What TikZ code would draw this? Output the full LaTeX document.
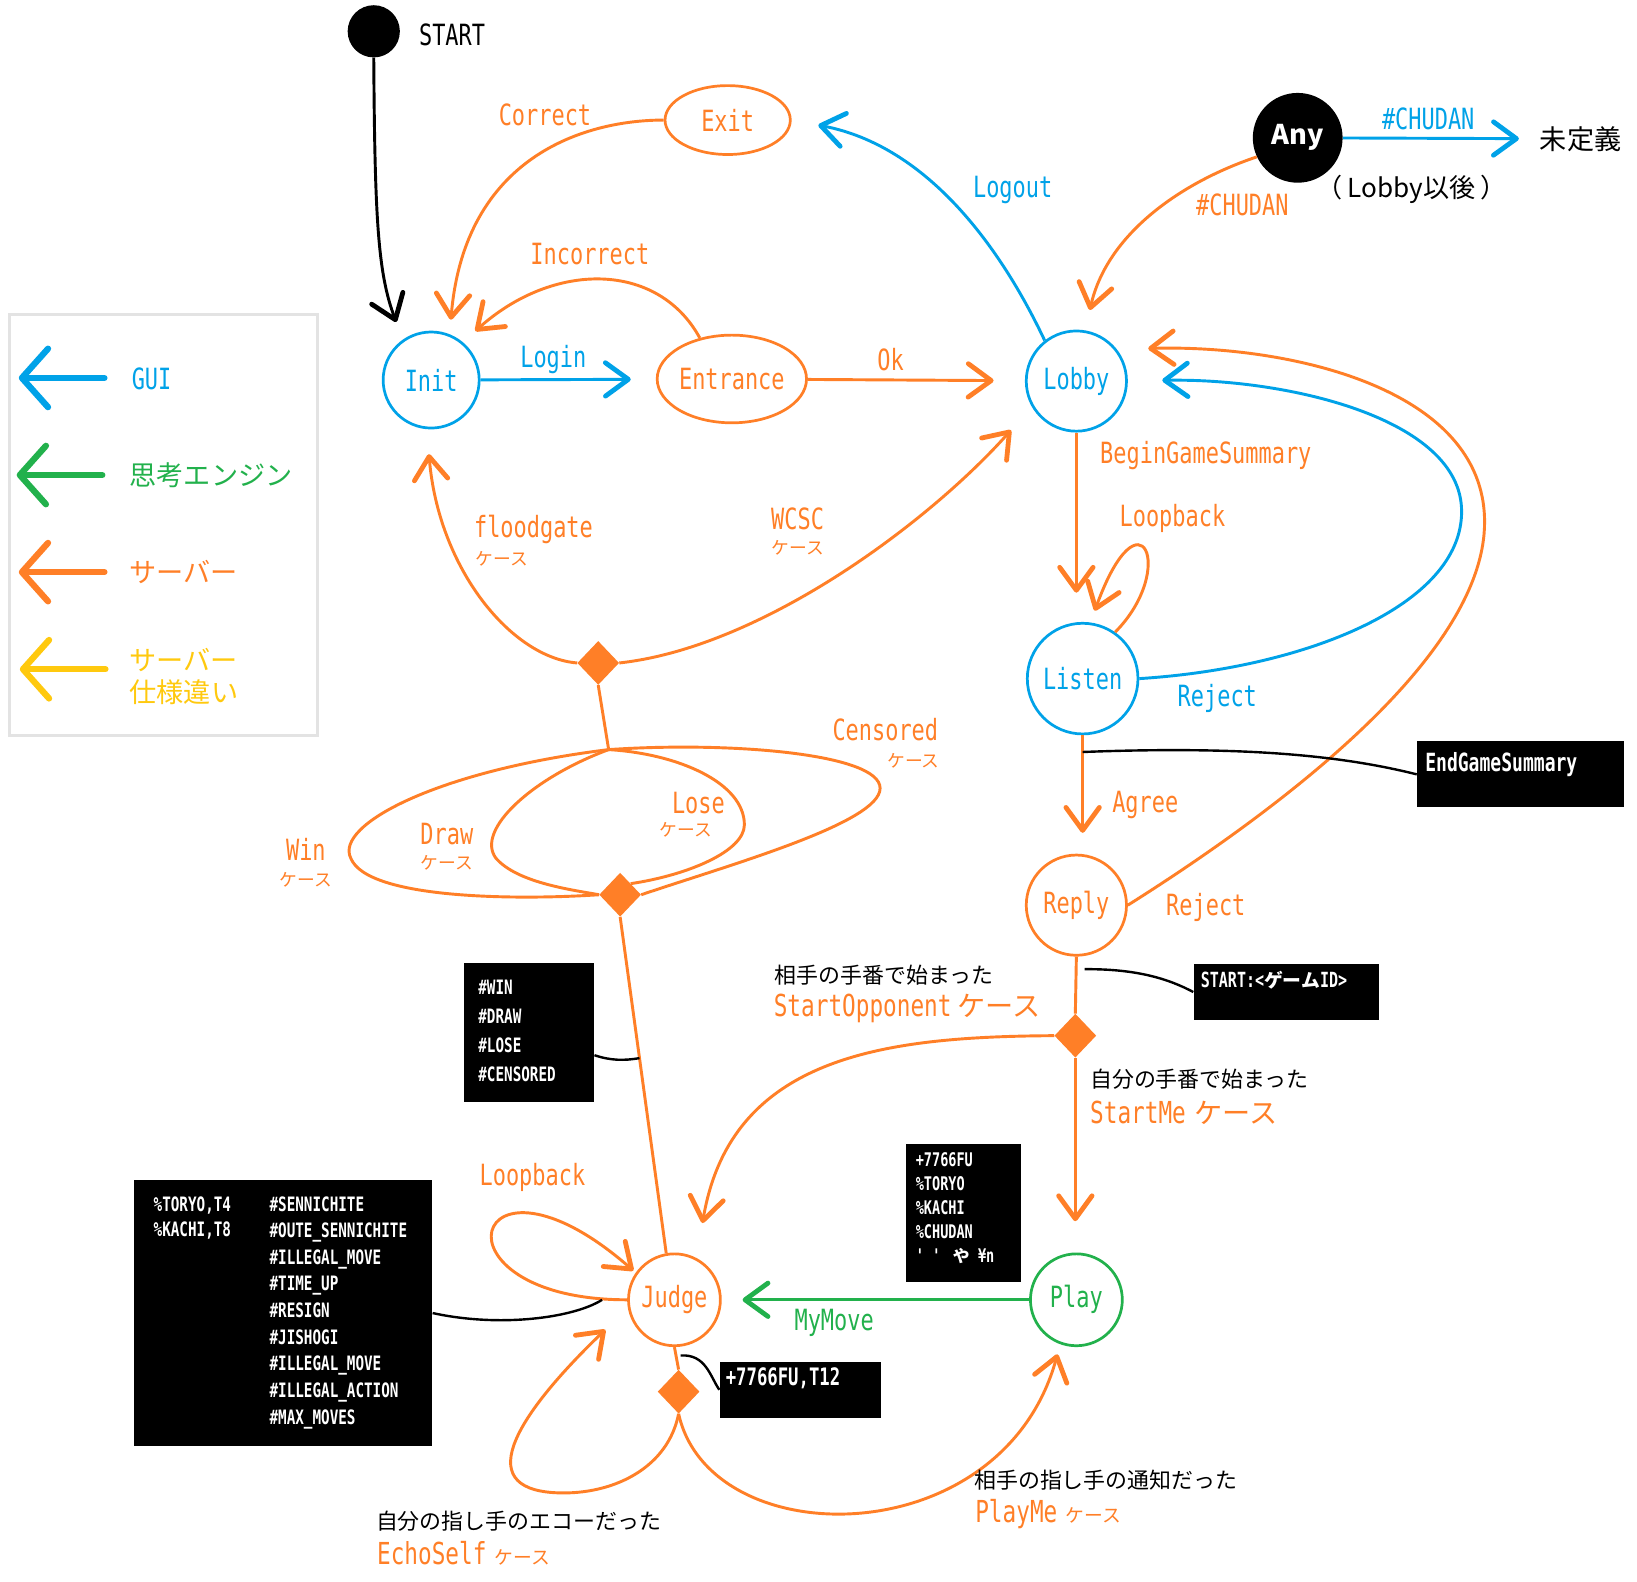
\documentclass[tikz,border=0pt]{standalone}
\usepackage{fontspec}
\setmainfont{Noto Sans CJK JP}
\newfontfamily\latf[FakeStretch=0.75]{DejaVu Sans Mono}
\newfontfamily\boxf[FakeStretch=0.72]{DejaVu Sans Mono}
\usetikzlibrary{arrows.meta,shapes.geometric,calc}
\newcommand\fsz[1]{\fontsize{#1}{#1}\selectfont}
\definecolor{cgui}{HTML}{00A2E8}
\definecolor{csrv}{HTML}{FF7F27}
\definecolor{ceng}{HTML}{22B14C}
\definecolor{cdev}{HTML}{FFC90E}
\definecolor{cframe}{HTML}{E3E3E3}
\begin{document}
\begin{tikzpicture}[x=1pt,y=-1pt,
  wire/.style={line width=2.8pt},
  thinwire/.style={line width=2.3pt, black},
  arw/.style={-{Straight Barb[length=22pt,width=32pt,line width=4.6pt,round]}},
  legarw/.style={line width=6pt, line cap=round,
    -{Straight Barb[length=25pt,width=56pt,line width=6pt,round]}},
  st/.style={circle, draw, line width=2.6pt, inner sep=0, font=\latf\fsz{28}},
  el/.style={ellipse, draw, line width=2.6pt, inner sep=0, font=\latf\fsz{28}},
  dot/.style={circle, fill=black, inner sep=0},
  dia/.style={diamond, fill=csrv, minimum width=40pt, minimum height=42pt, inner sep=0},
  lbl/.style={font=\latf\fsz{28}, inner sep=1pt},
  kase/.style={font=\rmfamily\fsz{17}, text=csrv, inner sep=0},
  jp/.style={font=\rmfamily\fsz{21}, text=black, inner sep=0, anchor=west},
  leg/.style={font=\rmfamily\fsz{26}, inner sep=0, anchor=west},
  blk/.style={fill=black, inner sep=0, anchor=north west},
  boxt/.style={text=white, font=\boxf\bfseries\fsz{19}, inner sep=0, anchor=west,
    text height=14pt, text depth=2pt},
]
\fill[white] (0,0) rectangle (1568,1515);
\useasboundingbox (0,0) rectangle (1568,1515);

% ---------- legend ----------
\node[draw=cframe, line width=3pt, minimum width=295pt, minimum height=403pt,
      anchor=north west, inner sep=0] (legend) at (8,300) {};
\node[leg, text=cgui, font=\latf\fsz{28}] (lg1) at (126,363) {GUI};
\node[leg, text=ceng] (lg2) at (124,455) {思考エンジン};
\node[leg, text=csrv] (lg3) at (124,548) {サーバー};
\node[leg, text=cdev, align=left, font=\rmfamily\fontsize{26}{31}\selectfont] (lg4) at (124,648) {サーバー\\仕様違い};
\draw[legarw, cgui] (100,362) -- (18,362);
\draw[legarw, ceng] (98,455) -- (16,455);
\draw[legarw, csrv] (100,548) -- (18,548);
\draw[legarw, cdev] (101,641) -- (19,641);

% ---------- states ----------
\node[dot, minimum size=50pt] (start) at (358,30) {};
\node[lbl, black] (lstart) at (433,33) {START};
\node[st, draw=cgui, text=cgui, minimum size=92pt] (init) at (413,364) {Init};
\node[el, draw=csrv, text=csrv, minimum width=136pt, minimum height=84pt] (entrance) at (701,363) {Entrance};
\node[st, draw=cgui, text=cgui, minimum size=96pt] (lobby) at (1031,365) {Lobby};
\node[el, draw=csrv, text=csrv, minimum width=120pt, minimum height=66pt] (exit) at (697,115) {Exit};
\node[dot, minimum size=86pt, text=white, font=\rmfamily\bfseries\fsz{26}] (any) at (1243,132) {Any};
\node[st, draw=cgui, text=cgui, minimum size=106pt] (listen) at (1037,650) {Listen};
\node[st, draw=csrv, text=csrv, minimum size=96pt] (reply) at (1031,867) {Reply};
\node[st, draw=ceng, text=ceng, minimum size=88pt] (play) at (1031,1245) {Play};
\node[st, draw=csrv, text=csrv, minimum size=88pt] (judge) at (646,1245) {Judge};
\node[dia] (d1) at (573,635) {};
\node[dia] (d2) at (594,857) {};
\node[dia] (d3) at (1030,992) {};
\node[dia] (d4) at (650,1333) {};
\coordinate (j) at (583,718);
\node[inner sep=2pt, font=\rmfamily\fsz{26}] (undef) at (1514,133) {未定義};

% ---------- message boxes ----------
\node[blk, minimum width=198pt, minimum height=63pt] (egs) at (1357,710) {};
\node[boxt, font=\boxf\bfseries\fsz{24}, text height=17pt] (tegs) at (1365,731) {EndGameSummary};
\node[blk, minimum width=178pt, minimum height=54pt] (sbox) at (1143,923) {};
\node[boxt, font=\boxf\bfseries\fsz{20}] (tsbox) at (1150,940) {START:<{\rmfamily\fsz{18}ゲーム}ID>};
\node[blk, minimum width=125pt, minimum height=133pt] (winbox) at (444,922) {};
\foreach \t [count=\i] in {\#WIN,\#DRAW,\#LOSE,\#CENSORED}
  \node[boxt] (wb\i) at (458,{947+27.7*(\i-1)}) {\t};
\node[blk, minimum width=110pt, minimum height=132pt] (movebox) at (868,1096) {};
\foreach \t [count=\i] in {+7766FU,\%TORYO,\%KACHI,\%CHUDAN}
  \node[boxt, font=\boxf\bfseries\fsz{18}] (mb\i) at (877,{1111+23*(\i-1)}) {\t};
\node[boxt, font=\boxf\bfseries\fsz{18}] (mb5) at (877,1203) {'\hspace{8pt}'\hspace{12pt}{\rmfamily\fsz{16}や}\hspace{8pt}¥n};
\node[blk, minimum width=155pt, minimum height=54pt] (t12) at (689,1304) {};
\node[boxt, font=\boxf\bfseries\fsz{23}, text height=16pt] (tt12) at (695,1320) {+7766FU,T12};
\node[blk, minimum width=286pt, minimum height=255pt] (bigbox) at (128,1130) {};
\foreach \t [count=\i] in {{\%TORYO,T4},{\%KACHI,T8}}
  \node[boxt] (ba\i) at (147,{1154+24.5*(\i-1)}) {\t};
\foreach \t [count=\i] in {\#SENNICHITE,\#OUTE\_SENNICHITE,\#ILLEGAL\_MOVE,\#TIME\_UP,\#RESIGN,\#JISHOGI,\#ILLEGAL\_MOVE,\#ILLEGAL\_ACTION,\#MAX\_MOVES}
  \node[boxt] (bb\i) at (258,{1154+25.5*(\i-1)}) {\t};

% ---------- transitions ----------
\draw[wire, arw, black, shorten >=18pt] (start.south) .. controls (359,210) and (362,262) .. (init.125);
\draw[wire, arw, cgui, shorten >=24pt] (init) -- (entrance);
\draw[wire, arw, csrv, shorten >=30pt] (entrance) -- (lobby);
\draw[wire, arw, csrv, shorten >=16pt] (entrance.128) .. controls (630,250) and (530,250) .. (init.50);
\draw[wire, arw, csrv, shorten >=14pt] (exit.west) .. controls (560,115) and (445,150) .. (init.68);
\draw[wire, arw, cgui, shorten >=26pt] (lobby.128) .. controls (960,240) and (890,140) .. (exit.east);
\draw[wire, arw, csrv, shorten >=20pt] (any.205) .. controls (1130,175) and (1060,225) .. (lobby.80);
\draw[wire, arw, cgui, shorten >=18pt] (any) -- (undef);
\draw[wire, arw, csrv, shorten >=28pt] (lobby.south) -- (lobby.south |- listen.north);
\draw[wire, arw, csrv, shorten >=12pt] (listen.55) .. controls (1128,545) and (1092,465) .. (listen.82);
\draw[wire, arw, cgui, shorten >=33pt] (listen.east) .. controls (1250,640) and (1400,580) .. (1400,490)
  .. controls (1400,400) and (1230,362) .. (lobby.east);
\draw[wire, arw, csrv, shorten >=20pt] (listen.south) -- (listen.south |- reply.north);
\draw[wire, arw, csrv, shorten >=30pt] (reply.east) .. controls (1250,760) and (1422,620) .. (1422,500)
  .. controls (1422,370) and (1230,330) .. (lobby.38);
\draw[wire, csrv] (reply.south) -- (d3.north);
\draw[wire, arw, csrv, shorten >=30pt] (d3.south) -- (d3.south |- play.north);
\draw[wire, arw, csrv, shorten >=34pt] (d3.west) .. controls (850,993) and (700,1010) .. (judge.62);
\draw[wire, arw, ceng, shorten >=20pt] (play) -- (judge);
\draw[wire, arw, csrv, shorten >=3pt] (judge.west) .. controls (405,1245) and (450,1080) .. (judge.145);
\draw[wire, csrv] (judge.south) -- (d4.north);
\draw[wire, arw, csrv, shorten >=30pt] (d4.south) .. controls (640,1405) and (590,1430) .. (540,1430)
  .. controls (450,1430) and (490,1360) .. (judge.190);
\draw[wire, arw, csrv, shorten >=10pt] (d4.south) .. controls (680,1490) and (960,1490) .. (play.250);
\draw[wire, csrv] (judge.100) -- (d2.south);
\draw[wire, csrv] (j) .. controls (420,738) and (320,790) .. (336,822)
  .. controls (352,862) and (500,862) .. (d2.west);
\draw[wire, csrv] (j) .. controls (510,745) and (455,795) .. (475,822)
  .. controls (495,845) and (545,852) .. (d2.west);
\draw[wire, csrv] (j) .. controls (650,722) and (713,750) .. (713,790)
  .. controls (713,815) and (660,838) .. (d2.north east);
\draw[wire, csrv] (j) .. controls (700,710) and (843,722) .. (843,755)
  .. controls (843,788) and (700,828) .. (d2.east);
\draw[wire, csrv] (j) -- (d1.south);
\draw[wire, arw, csrv, shorten >=24pt] (d1.west) .. controls (490,630) and (420,545) .. (init.265);
\draw[wire, arw, csrv, shorten >=30pt] (d1.east) .. controls (730,620) and (890,500) .. (lobby.210);

% ---------- callout leaders ----------
\draw[thinwire] ([yshift=-16pt]listen.south) .. controls (1200,714) and (1290,725) .. (egs.west);
\draw[thinwire] ([xshift=8pt,yshift=-12pt]reply.south) .. controls (1090,928) and (1120,938) .. (sbox.west);
\draw[thinwire] (bigbox.east) .. controls (480,1272) and (550,1262) .. ([xshift=-24pt]judge.west);
\draw[thinwire] ([xshift=6pt,yshift=-8pt]judge.south) .. controls (676,1297) and (680,1318) .. (t12.west);
\draw[thinwire] ([yshift=-22pt]winbox.east) .. controls (585,1016) and (598,1016) .. ($(d2.south)!0.42!(judge.100)$);

% ---------- labels ----------
\node[lbl, csrv] (lcorrect) at (522,110) {Correct};
\node[lbl, csrv] (lincorrect) at (565,243) {Incorrect};
\node[lbl, cgui] (llogin) at (530,344) {Login};
\node[lbl, csrv] (lok) at (853,344) {Ok};
\node[lbl, cgui] (llogout) at (970,182) {Logout};
\node[lbl, csrv] (lchudan1) at (1190,196) {\#CHUDAN};
\node[lbl, cgui] (lchudan2) at (1368,114) {\#CHUDAN};
\node[inner sep=0, font=\rmfamily\fsz{25}] (lafter) at (1352,181) {（\hspace{5pt}Lobby以後\hspace{5pt}）};
\node[lbl, csrv] (lbgs) at (1155,436) {BeginGameSummary};
\node[lbl, csrv] (lloop1) at (1123,497) {Loopback};
\node[lbl, cgui] (lrej1) at (1166,669) {Reject};
\node[lbl, csrv] (lagree) at (1097,771) {Agree};
\node[lbl, csrv] (lrej2) at (1155,869) {Reject};
\node[lbl, csrv] (lflood) at (511,507) {floodgate};
\node[kase] (kflood) at (481,535) {ケース};
\node[lbl, csrv] (lwcsc) at (764,497) {WCSC};
\node[kase] (kwcsc) at (764,525) {ケース};
\node[lbl, csrv] (lcens) at (848,699) {Censored};
\node[kase] (kcens) at (875,729) {ケース};
\node[lbl, csrv] (llose) at (669,769) {Lose};
\node[kase] (klose) at (657,795) {ケース};
\node[lbl, csrv] (ldraw) at (428,799) {Draw};
\node[kase] (kdraw) at (428,826) {ケース};
\node[lbl, csrv] (lwin) at (293,814) {Win};
\node[kase] (kwin) at (293,843) {ケース};
\node[jp] (dopp) at (742,934) {相手の手番で始まった};
\node[inner sep=0, anchor=west, text=csrv] (lopp) at (741,966) {\latf\fsz{29}StartOpponent\hspace{6pt}{\rmfamily\fsz{27}ケース}};
\node[jp] (dme) at (1044,1034) {自分の手番で始まった};
\node[inner sep=0, anchor=west, text=csrv] (lme) at (1044,1066) {\latf\fsz{29}StartMe\hspace{8pt}{\rmfamily\fsz{27}ケース}};
\node[lbl, csrv] (lloop2) at (510,1128) {Loopback};
\node[lbl, ceng] (lmymove) at (799,1267) {MyMove};
\node[jp] (decho) at (360,1457) {自分の指し手のエコーだった};
\node[inner sep=0, anchor=west, text=csrv] (lecho) at (361,1488) {\latf\fsz{29}EchoSelf\hspace{8pt}{\rmfamily\fsz{18}ケース}};
\node[jp] (dplay) at (933,1418) {相手の指し手の通知だった};
\node[inner sep=0, anchor=west, text=csrv] (lplay) at (934,1450) {\latf\fsz{29}PlayMe\hspace{8pt}{\rmfamily\fsz{18}ケース}};
\end{tikzpicture}
\end{document}
